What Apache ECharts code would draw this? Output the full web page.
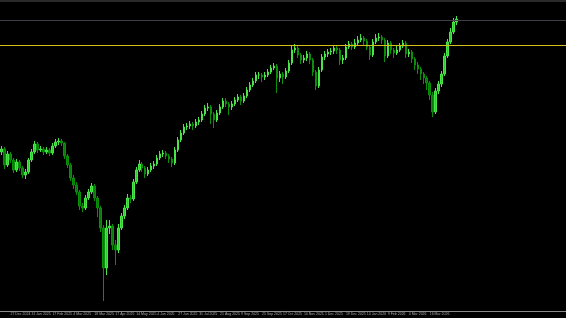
<!DOCTYPE html>
<html>
<head>
<meta charset="utf-8">
<script src="https://cdn.jsdelivr.net/npm/echarts@6/dist/echarts.min.js"></script>
<style>
html,body{margin:0;padding:0;background:#000;}
#chart{width:566px;height:318px;}
</style>
</head>
<body>
<div id="chart"></div>
<script>
// Price values (arbitrary chart units, higher = up)
var opens = [168,171,155,166,160,150,158,152,145,148,
160,168,176,170,171,168,170,167,174,178,
179,177,164,155,142,135,128,114,112,122,
128,134,122,112,92,52,92,94,75,70,
92,104,112,122,121,138,150,156,152,146,
150,154,156,162,166,167,164,161,157,170,
180,187,193,194,196,194,198,200,206,212,
213,206,200,207,213,219,216,213,216,220,
223,219,224,230,235,239,245,245,243,245,
248,252,254,242,246,243,249,257,270,272,
265,260,262,266,260,248,234,250,263,266,
268,269,272,270,260,262,273,276,273,277,
280,282,279,273,265,278,282,283,280,264,
277,270,267,270,274,277,266,268,261,255,
251,246,242,237,225,208,229,236,246,264,
278,288,298];
var closes = [171,155,166,160,150,158,152,145,148,160,
168,176,170,171,168,170,167,174,178,179,
177,164,155,142,135,128,114,112,122,128,
134,122,112,92,52,92,94,75,70,92,
104,112,122,121,138,150,156,152,146,150,
154,156,162,166,167,164,161,157,170,180,
187,193,194,196,194,198,200,206,212,213,
206,200,207,213,219,216,213,216,220,223,
219,224,230,235,239,245,245,243,245,248,
252,254,242,246,243,249,257,270,272,265,
260,262,266,260,248,234,250,263,266,268,
269,272,270,260,262,273,276,273,277,280,
282,279,273,265,278,282,283,280,264,277,
270,267,270,274,277,266,268,261,255,251,
246,242,237,225,208,229,236,246,264,278,
288,298,301];
var lows = [165,151,153,157,147,148,149,142,141,146,
158,166,167,168,165,166,164,165,172,175,
174,161,152,139,131,125,110,108,110,120,
126,119,103,88,19,45,86,70,55,67,
90,101,110,117,119,136,148,148,142,144,
148,151,154,160,163,161,157,153,155,168,
178,185,190,191,190,192,195,198,204,209,
196,192,198,205,211,213,205,210,214,218,
215,217,222,228,233,237,241,238,240,243,
246,250,227,238,236,241,247,255,267,262,
256,257,259,256,244,230,232,248,260,263,
265,266,266,255,256,260,271,270,271,275,
278,275,270,260,263,276,279,276,258,262,
266,262,265,268,272,262,263,257,250,246,
240,236,230,220,203,206,226,233,244,262,
276,286,295];
var highs = [174,173,169,168,162,161,160,154,151,162,
171,179,178,174,173,173,172,177,181,182,
181,178,166,157,145,138,130,117,125,131,
137,136,124,114,95,100,100,96,80,96,
107,115,126,125,141,153,160,158,154,153,
157,159,165,169,170,169,166,163,173,183,
190,196,197,199,198,201,203,209,215,217,
215,208,210,216,222,222,218,219,223,226,
225,227,233,238,242,248,248,247,248,251,
255,257,256,249,248,252,260,274,276,274,
267,265,269,268,262,250,253,266,269,271,
272,275,274,272,265,276,279,278,281,284,
286,284,281,275,281,286,287,285,282,280,
279,272,274,277,280,279,271,270,263,258,
253,248,244,239,228,232,239,249,267,281,
292,302,304];
var tickLabels = ["27 Dec 2024","31 Jan 2025","17 Feb 2025","4 Mar 2025","18 Mar 2025","17 Apr 2025",
"14 May 2025","4 Jun 2025","27 Jun 2025","31 Jul 2025","21 Aug 2025","9 Sep 2025","25 Sep 2025",
"17 Oct 2025","10 Nov 2025","1 Dec 2025","19 Dec 2025","14 Jan 2026","9 Feb 2026","4 Mar 2026",
"16 Mar 2026","17 Apr 2026"];
var levelLines = [300, 275];

var totalSlots = 189; // includes empty right margin (chart shift)
var categories = [];
for (var i = 0; i < totalSlots; i++) categories.push(String(i));
var ohlc = [];
for (var j = 0; j < closes.length; j++) ohlc.push([opens[j], closes[j], lows[j], highs[j]]);

var chart = echarts.init(document.getElementById('chart'));
chart.setOption({
  backgroundColor: '#000000',
  animation: false,
  grid: {left: 0, right: 0, top: 0, bottom: 7},
  xAxis: {
    type: 'category',
    data: categories,
    boundaryGap: true,
    axisLine: {show: true, lineStyle: {color: '#8a8a8a', width: 1}},
    axisTick: {show: false},
    splitLine: {show: false},
    axisLabel: {
      show: true,
      showMinLabel: true,
      showMaxLabel: false,
      hideOverlap: false,
      interval: function (idx) { return idx >= 3 && (idx - 3) % 7 === 0 && (idx - 3) / 7 < tickLabels.length; },
      formatter: function (v, idx) { var k = (parseInt(v, 10) - 3) / 7; return tickLabels[k] || ''; },
      align: 'left',
      fontSize: 3.5,
      fontFamily: 'Liberation Sans',
      color: '#a8a8a8',
      margin: 1.5
    }
  },
  yAxis: {
    type: 'value',
    min: 9, max: 320,
    show: false,
    splitLine: {show: false}
  },
  graphic: [{
    type: 'rect', left: 0, top: 0, shape: {width: 566, height: 2},
    style: {fill: '#2a2a2a'}, silent: true
  }],
  series: [{
    type: 'candlestick',
    data: ohlc,
    barWidth: 2,
    itemStyle: {
      color: '#2ccf2c',
      color0: '#087a08',
      borderColor: '#48e448',
      borderColor0: '#0b8f0b',
      borderWidth: 1
    },
    markLine: {
      silent: true,
      symbol: ['none', 'none'],
      label: {show: false},
      animation: false,
      data: [
        {yAxis: levelLines[0], lineStyle: {color: '#3e3e46', width: 1, type: 'solid'}},
        {yAxis: levelLines[1], lineStyle: {color: '#d4c21a', width: 1, type: 'solid'}}
      ]
    }
  }]
});
</script>
</body>
</html>
